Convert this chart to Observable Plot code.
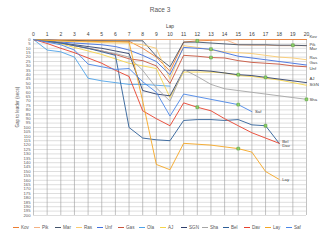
<!DOCTYPE html>
<html><head><meta charset="utf-8">
<script src="https://cdn.jsdelivr.net/npm/d3@7"></script>
<script src="https://cdn.jsdelivr.net/npm/@observablehq/plot@0.6"></script>
<style>
body{margin:0;background:#fff;font-family:"Liberation Sans",Arial,sans-serif;}
#title{height:18px;line-height:20px;text-align:center;font-size:6.5px;color:#595959;}
#legend{display:flex;justify-content:center;margin-top:5px;font-size:4.6px;color:#595959;}
.item{width:21px;display:flex;align-items:center;}
.sw{width:6px;height:1.2px;margin-right:2px;}
</style></head>
<body>
<div id="title">Race 3</div>
<div id="chart"></div>
<div id="legend"></div>
<script>
const drivers = ["Kov","Pik","Mar","Ras","Unf","Gas","Ola","AJ","SGN","Sha","Bel","Dav","Lay","Saf"];
const colors = ["#ED7D31","#F4B183","#44546A","#FBCB6E","#3F6FE0","#C8553D","#4FA3E8","#F5D44A","#2F3F6B","#A5A5A5","#2E5F97","#E8412D","#F5A623","#4A86E8"];
const laps = [0,1,2,3,4,5,6,7,8,9,10,11,12,13,14,15,16,17,18,19,20];
const kov = [0,0.5,1,1,1.5,1.5,2,2,10,20,36,3,1.5,1,0.5,0,0,0,0,0,0];
const pik = [0,0,0,0,0,0,0,0,0,0,0,0,0,0,0,6,6.5,6.5,7,7,7];
const mar = [0,0.5,1,1,1.5,1.5,1.5,1.5,1.5,19,31,3,3,4,5,6,6,6,6.5,6.5,7];
const ras = [0,1,2,2.5,3,3.5,4,4,6,10,45,7,9,12,14,15,16,18,20,21,23];
const unf = [0,2,3,4,5,6,8,12,18,25,40,9,10,11,15,19,21,23,25,27,29];
const gas = [0,2,4,7,10,13,17,22,24,30,50,18,19,20.5,21,24,26,27,28,30,31];
const ola = [0,12,14,20,44,47,49,51,51,52,53];
const aj = [0,2,5,9,13,17,22,27,30,33,66,37,37,37,38,41,42,44,46,49,52];
const sgn = [0,2,4,6,8,10,13,16,58,62,64,35,35,36,38,40,41,43,45,47,49];
const sha = [0,2,4,7,10,13,16,20,35,55,70,34,42,51,56,58,60,62,64,66,68];
const bel = [0,2,4,7,10,14,18,100,112,114,115,92,91,91,92,91,97,98,118];
const dav = [0,4.5,10,15,21,27,35,42,81,90,98,72,77,81,90,98,106,112,118];
const lay = [0,1,1.5,2,2,2.5,2.5,3,70,142,148,118,119,120,122,124,128,150,159];
const saf = [0,3,6,12,28,31,34,33,48,60,87,62,65,68,71,74,82];
const series = [kov,pik,mar,ras,unf,gas,ola,aj,sgn,sha,bel,dav,lay,saf];
const endLabels = ["Kov","Pik","Mar","Ras","Unf","Gas","","AJ","SGN","Sha","Bel","Dav","Lay","Saf"];
const markerDrivers = ["Kov","Unf","Gas","SGN","SGN","Sha","Saf","Bel","Mar","Dav","Lay"];
const markerLaps = [12,13,13,15,17,20,15,17,19,12,15];
const xTicks = [0,1,2,3,4,5,6,7,8,9,10,11,12,13,14,15,16,17,18,19,20];
const yTicks = [0,5,10,15,20,25,30,35,40,45,50,55,60,65,70,75,80,85,90,95,100,105,110,115,120,125,130,135,140,145,150,155,160,165,170,175,180,185,190,195,200];

// label vertical nudges (style only)
const labelDy = [-3,-1.5,2.5,-2,3.5,-4.5,0,-7,2,0,-2,2,0,0];

const rows = [];
series.forEach((s, i) => s.forEach((g, j) => rows.push({driver: drivers[i], lap: laps[j], gap: g})));
const last = series.map((s, i) => ({driver: drivers[i], label: endLabels[i], dy: labelDy[i], lap: laps[s.length - 1], gap: s[s.length - 1]}))
  .filter(d => d.label);
const marks = markerDrivers.map((d, k) => {
  const s = series[drivers.indexOf(d)];
  return {driver: d, lap: markerLaps[k], gap: s[laps.indexOf(markerLaps[k])]};
});

const chart = Plot.plot({
  width: 320, height: 202,
  marginTop: 21, marginBottom: 5, marginLeft: 33, marginRight: 14,
  style: {fontFamily: "Liberation Sans, Arial, sans-serif", fontSize: "4.5px", color: "#595959", background: "#fff"},
  x: {domain: [0, 20]},
  y: {domain: [0, 200], reverse: true},
  color: {domain: drivers, range: colors},
  marks: [
    Plot.gridY(yTicks, {stroke: "#c8c8c8", strokeOpacity: 1, strokeWidth: 0.6}),
    Plot.gridX(xTicks, {stroke: "#9a9a9a", strokeOpacity: 1, strokeWidth: 0.6}),
    Plot.axisX(xTicks, {anchor: "top", tickSize: 0, tickPadding: 4, fontSize: 5, fill: "#404040", label: null}),
    Plot.axisY(yTicks, {anchor: "left", tickSize: 0, tickPadding: 3, fontSize: 4.2, fill: "#595959", label: null}),
    Plot.text(["Lap"], {frameAnchor: "top", dy: -15, fontSize: 4.8, fill: "#404040"}),
    Plot.text(["Gap to leader (secs)"], {frameAnchor: "left", rotate: -90, dx: -16, fontSize: 4.5, fill: "#595959"}),
    Plot.line(rows, {x: "lap", y: "gap", z: "driver", stroke: "driver", strokeWidth: 0.9}),
    Plot.dot(marks, {x: "lap", y: "gap", symbol: "square", r: 1.6, fill: "#8fd16a", stroke: "#4f9a36", strokeWidth: 0.5}),
    ...last.map(d => Plot.text([d], {x: "lap", y: "gap", text: "label", dx: 3, dy: d.dy, textAnchor: "start", fontSize: 4.3, fill: "#404040"}))
  ]
});
document.getElementById("chart").appendChild(chart);

const leg = document.getElementById("legend");
drivers.forEach((d, i) => {
  const it = document.createElement("div"); it.className = "item";
  const sw = document.createElement("div"); sw.className = "sw"; sw.style.background = colors[i];
  const t = document.createElement("span"); t.textContent = d;
  it.appendChild(sw); it.appendChild(t); leg.appendChild(it);
});
</script>
</body></html>
